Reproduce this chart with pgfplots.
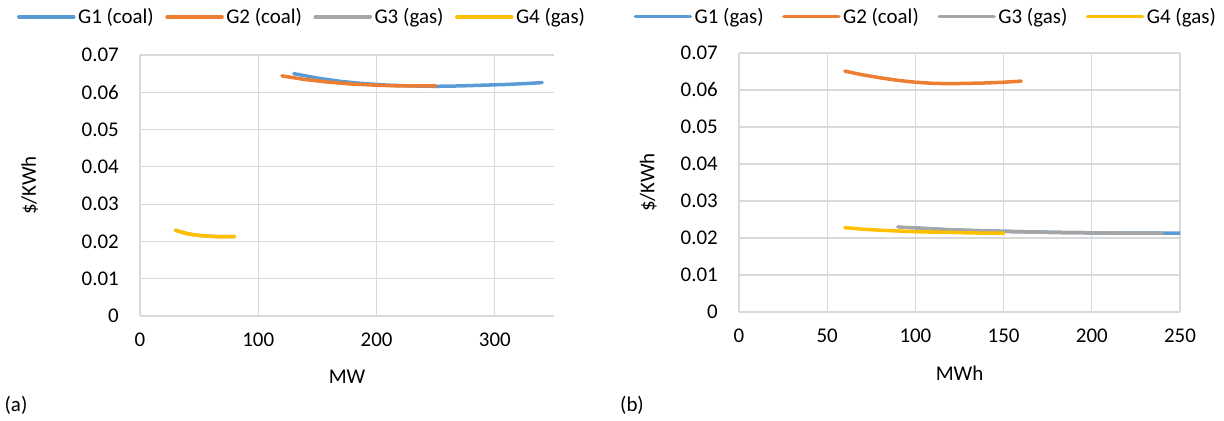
\documentclass[border=0pt]{standalone}
\usepackage{pgfplots}
\pgfplotsset{compat=1.18}
\usepackage{fontspec}
\setmainfont{Carlito}
\definecolor{cBlue}{HTML}{5B9BD5}
\definecolor{cOrange}{HTML}{ED7D31}
\definecolor{cGray}{HTML}{A5A5A5}
\definecolor{cGold}{HTML}{FFC000}
\definecolor{cGrid}{HTML}{D9D9D9}
\pgfplotsset{
  mystyle/.style={
    scale only axis,
    anchor=south west,
    axis line style={draw=none},
    major tick length=0pt,
    grid=major,
    major grid style={cGrid, line width=1.2bp},
    ymin=0, ymax=0.07,
    scaled y ticks=false,
    ytick={0,0.01,0.02,0.03,0.04,0.05,0.06,0.07},
    yticklabels={0,0.01,0.02,0.03,0.04,0.05,0.06,0.07},
    /pgf/number format/assume math mode=true,
    tick label style={font=\fontsize{21}{25}\selectfont},
    label style={font=\fontsize{21}{25}\selectfont},
    yticklabel style={anchor=east, inner sep=0pt, xshift=-21bp},
    xticklabel style={anchor=center, inner sep=0pt, yshift=-24bp},
    legend image code/.code={\draw[##1, line width=3.5bp, line cap=round] (0bp,0bp) -- (55bp,0bp);},
    every axis plot/.append style={line width=3.5bp, line cap=round, line join=round, no marks},
    legend cell align=left,
  }
}
\begin{document}
\begin{tikzpicture}
\path[use as bounding box] (0,0) rectangle (1224bp,421bp);
% ---------- (a)
\begin{axis}[mystyle,
  at={(140bp,105bp)}, width=414bp, height=261bp,
  xmin=0, xmax=350, xtick={0,100,200,300},
  xlabel={MW}, ylabel={\$/KWh},
  xlabel style={at={(axis description cs:0.5,-0.234)}, anchor=center},
  ylabel style={at={(axis description cs:-0.266,0.5)}, anchor=center},
  legend style={draw=none, fill=none, legend columns=4, at={(0.392,1.146)}, anchor=center,
    font=\fontsize{21}{25}\selectfont,
    /tikz/every even column/.append style={column sep=9bp},
    nodes={inner sep=2.5bp}},
]
\addplot[cBlue] coordinates {(130,0.0650) (150,0.0638) (170,0.0629) (190,0.0623) (210,0.0619) (230,0.0617) (250,0.0616) (270,0.0617) (290,0.0619) (310,0.0621) (330,0.0624) (340,0.0626)};
\addlegendentry{G1 (coal)}
\addplot[cOrange] coordinates {(120,0.0644) (140,0.0634) (160,0.0627) (180,0.0622) (200,0.0619) (220,0.0617) (240,0.0617) (250,0.0617)};
\addlegendentry{G2 (coal)}
\addplot[cGray] coordinates {(30,0.0230) (35,0.0225) (40,0.0221) (45,0.0218) (50,0.0216) (55,0.0215) (60,0.0214) (65,0.0213) (70,0.0213) (75,0.0213) (80,0.0213)};
\addlegendentry{G3 (gas)}
\addplot[cGold] coordinates {(30,0.0230) (35,0.0225) (40,0.0221) (45,0.0218) (50,0.0216) (55,0.0215) (60,0.0214) (65,0.0213) (70,0.0213) (75,0.0213) (80,0.0213)};
\addlegendentry{G4 (gas)}
\end{axis}
% ---------- (b)
\begin{axis}[mystyle,
  at={(739bp,109bp)}, width=441bp, height=259bp,
  xmin=0, xmax=250, xtick={0,50,100,150,200,250},
  xlabel={MWh}, ylabel={\$/KWh},
  xlabel style={at={(axis description cs:0.5,-0.236)}, anchor=center},
  ylabel style={at={(axis description cs:-0.206,0.5)}, anchor=center},
  legend style={draw=none, fill=none, legend columns=4, at={(0.424,1.140)}, anchor=center,
    font=\fontsize{21}{25}\selectfont,
    /tikz/every even column/.append style={column sep=16bp},
    nodes={inner sep=2.5bp}},
]
\addplot[cBlue] coordinates {(100,0.0227) (120,0.0222) (140,0.0219) (160,0.0217) (180,0.0215) (200,0.0214) (220,0.0213) (240,0.0213) (250,0.0213)};
\addlegendentry{G1 (gas)}
\addplot[cOrange] coordinates {(60,0.0651) (70,0.0641) (80,0.0633) (90,0.0626) (100,0.0621) (110,0.0618) (120,0.0617) (130,0.0618) (140,0.0619) (150,0.0621) (160,0.0624)};
\addlegendentry{G2 (coal)}
\addplot[cGray] coordinates {(90,0.0230) (100,0.0227) (120,0.0222) (140,0.0219) (160,0.0217) (180,0.0215) (200,0.0214) (220,0.0213) (240,0.0213)};
\addlegendentry{G3 (gas)}
\addplot[cGold] coordinates {(60,0.0228) (70,0.0224) (80,0.0221) (90,0.0219) (100,0.0217) (110,0.0216) (120,0.0215) (130,0.0214) (140,0.0213) (150,0.0213)};
\addlegendentry{G4 (gas)}
\end{axis}
\node[font=\fontsize{21}{25}\selectfont] at (16bp,16bp) {(a)};
\node[font=\fontsize{21}{25}\selectfont] at (632bp,16bp) {(b)};
\end{tikzpicture}
\end{document}
